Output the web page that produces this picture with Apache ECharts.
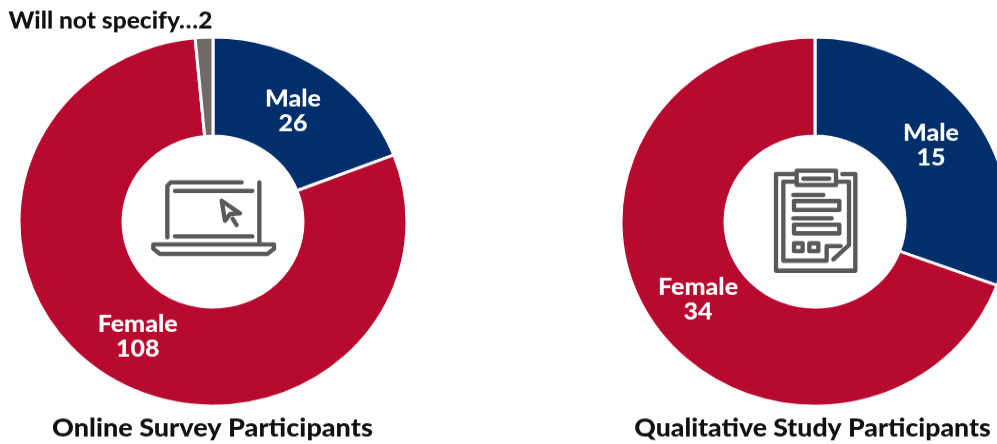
<!DOCTYPE html>
<html><head><meta charset="utf-8">
<style>html,body{margin:0;padding:0;background:#fff;overflow:hidden;width:997px;height:444px}
#wrap{width:997px;height:444px;overflow:hidden}
#c{width:997px;height:467px;transform:scaleY(0.951);transform-origin:0 0}</style>
<script src="https://cdn.jsdelivr.net/npm/echarts@6/dist/echarts.min.js"></script>
</head><body><div id="wrap"><div id="c"></div></div>
<script>
const S=0.951, FONT='Lato, "Open Sans", sans-serif';
const onlineCategories=['Male','Female','Will not specify'];
const onlineValues=[26,108,2];
const qualitativeCategories=['Male','Female'];
const qualitativeValues=[15,34];
const chartTitles=['Online Survey Participants','Qualitative Study Participants'];
const colors=['#002F6C','#B80A2E','#6F6A65'];
const chart=echarts.init(document.getElementById('c'),null,{renderer:'canvas'});
const lbl={position:'inside',formatter:'{b}\n{c}',color:'#fff',fontFamily:FONT,fontWeight:900,fontSize:25,lineHeight:26};
function pie(cx,cats,vals,itemLabels){return{type:'pie',center:[cx,233],radius:[90,194],startAngle:90,clockwise:true,silent:true,
  avoidLabelOverlap:false,labelLine:{show:false},label:lbl,
  itemStyle:{borderColor:'#fff',borderWidth:3},
  data:cats.map((n,i)=>({name:n,value:vals[i],itemStyle:{color:colors[i]},label:itemLabels[i]||{}}))};}
const laptop=[
 {p:[[112,262],[112,108],[122,97],[335,97]]},{p:[[388,97],[388,282]]},{p:[[135,123],[367,123]]},{p:[[135,259],[367,259]]},
 {p:[[70,283],[432,283],[432,296],[412,312],[90,312],[70,296]],c:1},
 {p:[[275,152],[330,190],[300,192],[285,212]],c:1},{p:[[308,206],[320,225]]}];
const clip=[
 {p:[[135,72],[78,72],[78,362],[316,362],[316,72],[277,72]]},
 {p:[[140,62],[258,62],[258,105],[140,105]],c:1},{p:[[160,86],[238,86]]},
 {p:[[140,95],[100,95],[100,332],[230,332],[230,288],[272,288]]},
 {p:[[250,328],[297,285],[297,95],[258,95]]},
 {p:[[130,135],[220,135]]},{p:[[132,153],[268,153],[268,180],[132,180]],c:1},
 {p:[[130,205],[245,205]]},{p:[[132,224],[268,224],[268,250],[132,250]],c:1},
 {p:[[132,280],[158,280],[158,303],[132,303]],c:1},{p:[[178,280],[205,280],[205,303],[178,303]],c:1}];
function icon(x,y,parts){return{type:'group',x:x,y:y/S,scaleX:1/3,scaleY:1/3/S,silent:true,children:parts.map(o=>({
  type:o.c?'polygon':'polyline',shape:{points:o.p},
  style:{fill:o.c?'none':null,stroke:'#595959',lineWidth:13,lineCap:'round',lineJoin:'round'}}))};}
function heading(text,x,size){return{type:'text',x:x,y:428/S,silent:true,style:{text:text,align:'center',verticalAlign:'middle',
  fontFamily:FONT,fontWeight:900,fontSize:size,fill:'#111'}};}
chart.setOption({animation:false,
 series:[
  pie(213,onlineCategories,onlineValues,[{offset:[-2,4]},{offset:[1,-2]},{position:'outside',formatter:'{b}…{c}',color:'#111',fontSize:24.5,fontWeight:900,fontFamily:FONT,offset:[44,-2]}]),
  pie(815,qualitativeCategories,qualitativeValues,[{offset:[-3,3]},{offset:[2,-1]}])
 ],
 graphic:[icon(130,150,laptop),icon(750,150,clip),heading(chartTitles[0],212.5,27),heading(chartTitles[1],812.5,26.6)]
});
</script></body></html>
